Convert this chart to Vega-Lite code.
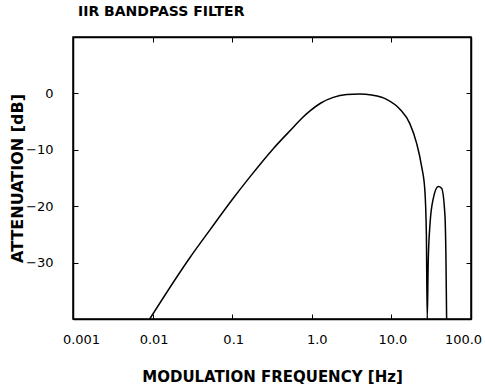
{
  "$schema": "https://vega.github.io/schema/vega-lite/v6.json",
  "width": 398,
  "height": 282,
  "autosize": {"type": "none"},
  "padding": {"left": 73, "top": 37, "right": 14, "bottom": 70},
  "background": "white",
  "title": {"text": "IIR BANDPASS FILTER", "anchor": "start", "frame": "group", "offset": 18, "dx": 5, "font": "DejaVu Sans", "fontSize": 14, "fontWeight": "bold", "color": "black"},
  "config": {
    "view": {"stroke": "black", "strokeWidth": 1.5},
    "axis": {"grid": false, "domainColor": "black", "tickColor": "black", "labelColor": "black", "titleColor": "black", "labelFont": "DejaVu Sans", "titleFont": "DejaVu Sans", "labelFontSize": 13, "titleFontSize": 15, "titleFontWeight": "bold", "tickSize": -5, "domainWidth": 1.5, "labelFlush": false}
  },
  "data": {"values": [
    {"f": 0.0092, "db": -40},
    {"f": 0.0295, "db": -29.1},
    {"f": 0.0526, "db": -24.2},
    {"f": 0.103, "db": -18.6},
    {"f": 0.167, "db": -14.8},
    {"f": 0.328, "db": -9.8},
    {"f": 0.586, "db": -6.0},
    {"f": 0.75, "db": -4.4},
    {"f": 0.95, "db": -3.1},
    {"f": 1.3, "db": -1.7},
    {"f": 1.86, "db": -0.7},
    {"f": 2.75, "db": -0.2},
    {"f": 4.0, "db": -0.1},
    {"f": 5.65, "db": -0.3},
    {"f": 8.7, "db": -1.05},
    {"f": 12.8, "db": -2.8},
    {"f": 17.1, "db": -5.4},
    {"f": 20.8, "db": -8.9},
    {"f": 24.0, "db": -13},
    {"f": 26.3, "db": -17.1},
    {"f": 27.5, "db": -25},
    {"f": 28.2, "db": -40},
    {"f": 29.0, "db": -30},
    {"f": 30.5, "db": -23.3},
    {"f": 33.6, "db": -18.6},
    {"f": 38.8, "db": -16.5},
    {"f": 42.7, "db": -16.8},
    {"f": 47.0, "db": -21.5},
    {"f": 48.5, "db": -29.7},
    {"f": 49.4, "db": -40}
  ]},
  "layer": [
    {
      "mark": {"type": "line", "color": "black", "strokeWidth": 1.5, "clip": true, "interpolate": "monotone"},
      "encoding": {
        "x": {"field": "f", "type": "quantitative", "scale": {"type": "log", "domain": [0.001, 100], "nice": false},
          "axis": {"orient": "bottom", "title": "MODULATION FREQUENCY [Hz]", "values": [0.001, 0.01, 0.1, 1, 10, 100], "labelPadding": 19, "titlePadding": 23,
            "labelExpr": "datum.value < 0.005 ? '0.001' : datum.value < 0.05 ? '0.01' : datum.value < 0.5 ? '0.1' : datum.value < 5 ? '1.0' : datum.value < 50 ? '10.0' : '100.0'",
            "labelOffset": {"condition": [{"test": "datum.value > 50", "value": -8}, {"test": "datum.value < 0.005", "value": 8}, {"test": "datum.value > 0.5 && datum.value < 5", "value": 5}], "value": 1}}},
        "y": {"field": "db", "type": "quantitative", "scale": {"domain": [-40, 10], "nice": false},
          "axis": {"orient": "left", "title": "ATTENUATION [dB]", "titleFontSize": 16, "values": [-30, -20, -10, 0], "labelPadding": 25, "titlePadding": 0}}
      }
    },
    {
      "mark": {"type": "line", "strokeOpacity": 0},
      "encoding": {
        "x": {"field": "f", "type": "quantitative", "axis": {"orient": "top", "title": null, "labels": false, "values": [0.01, 0.1, 1, 10]}},
        "y": {"field": "db", "type": "quantitative", "axis": {"orient": "right", "title": null, "labels": false, "values": [-30, -20, -10, 0]}}
      }
    }
  ],
  "resolve": {"axis": {"x": "independent", "y": "independent"}}
}
